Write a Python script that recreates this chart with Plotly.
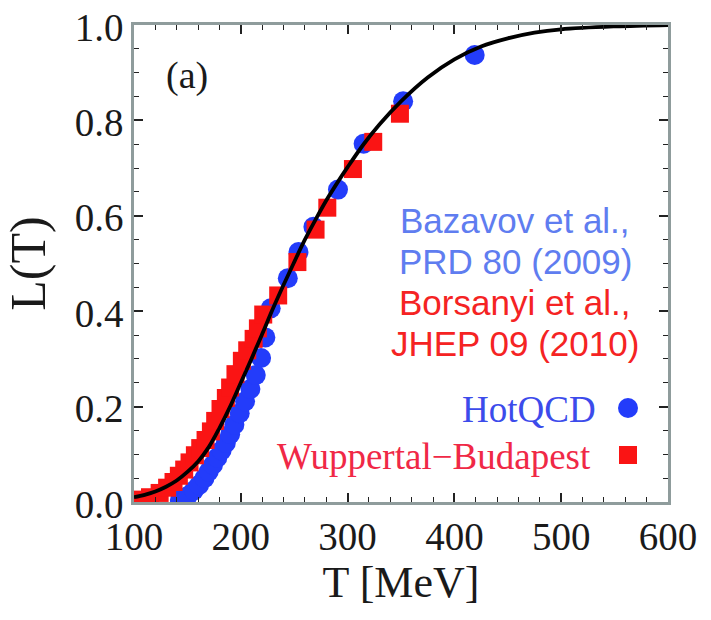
import plotly.graph_objects as go

# ---- data ----
# model curve L(T)
curve_T = [100, 110, 120, 130, 140, 150, 160, 170, 180, 190, 200, 210, 220, 230, 240,
           250, 260, 270, 280, 290, 300, 315, 330, 350, 375, 400, 425, 450, 475, 500, 550, 600]
curve_L = [0.010, 0.015, 0.022, 0.032, 0.045, 0.063, 0.085, 0.115, 0.155, 0.200, 0.250,
           0.300, 0.352, 0.405, 0.455, 0.503, 0.550, 0.592, 0.632, 0.668, 0.702, 0.750,
           0.792, 0.840, 0.890, 0.928, 0.955, 0.972, 0.984, 0.991, 0.997, 1.000]

# HotQCD (Bazavov et al., PRD 80 (2009))
hot_T = [143, 150, 156, 161, 166, 170, 174, 178, 182, 186, 190, 194, 199, 204, 209, 214,
         219, 223, 228, 244, 254, 268, 291, 315, 352, 419]
hot_L = [0.004, 0.012, 0.024, 0.036, 0.050, 0.064, 0.078, 0.093, 0.108, 0.124, 0.142,
         0.162, 0.186, 0.211, 0.237, 0.266, 0.302, 0.345, 0.406, 0.469, 0.524, 0.577,
         0.655, 0.751, 0.840, 0.937]

# Wuppertal-Budapest (Borsanyi et al., JHEP 09 (2010))
wb_T = [105, 115, 124, 131, 137, 142, 147, 152, 157, 162, 167, 172, 176, 181, 186, 190,
        195, 201, 206, 212, 216, 221, 235, 253, 270, 281, 305, 324, 349]
wb_L = [0.005, 0.010, 0.019, 0.030, 0.042, 0.055, 0.068, 0.083, 0.098, 0.113, 0.130,
        0.148, 0.170, 0.195, 0.218, 0.240, 0.268, 0.296, 0.318, 0.342, 0.364, 0.393,
        0.433, 0.503, 0.571, 0.617, 0.698, 0.755, 0.814]

x_ticks = [100, 200, 300, 400, 500, 600]
y_ticks = [0.0, 0.2, 0.4, 0.6, 0.8, 1.0]

BLUE = "rgb(35,60,250)"
RED = "rgb(250,20,20)"
SERIF = "Liberation Serif"
SANS = "Liberation Sans"

fig = go.Figure()
fig.add_trace(go.Scatter(x=hot_T, y=hot_L, mode="markers", name="HotQCD",
                         marker=dict(symbol="circle", size=20, color=BLUE, line=dict(width=0)),
                         showlegend=False))
fig.add_trace(go.Scatter(x=wb_T, y=wb_L, mode="markers", name="Wuppertal-Budapest",
                         marker=dict(symbol="square", size=18, color=RED, line=dict(width=0)),
                         showlegend=False))
fig.add_trace(go.Scatter(x=curve_T, y=curve_L, mode="lines", name="L(T)",
                         line=dict(color="black", width=3.8, shape="spline", smoothing=1.0),
                         showlegend=False))

axis_common = dict(
    showgrid=False, zeroline=False, showline=True, linecolor="#8f9c9c", linewidth=2.5,
    mirror="allticks", ticks="inside", ticklen=9, tickwidth=1.5, tickcolor="#222",
    tickfont=dict(family=SERIF, size=39, color="#1a1a1a"), automargin=False,
)

fig.update_xaxes(range=[100, 600], tickvals=x_ticks, **axis_common, ticklabelstandoff=-2,
                 minor=dict(dtick=20, tick0=100, ticks="inside", ticklen=5, tickcolor="#222", tickwidth=1.2),
                 title=dict(text="T [MeV]", font=dict(family=SERIF, size=44, color="#1a1a1a"), standoff=9))
fig.update_yaxes(range=[0, 1], tickvals=y_ticks, tickformat=".1f", **axis_common, ticklabelshift=2,
                 minor=dict(dtick=0.05, tick0=0, ticks="inside", ticklen=5, tickcolor="#222", tickwidth=1.2),
                 title=dict(text="L(T)", font=dict(family=SERIF, size=50, color="#1a1a1a"), standoff=18))

# text annotations (legend-like block)
def px2paper(px, py):
    return (px - 134) / (668 - 134), (502 - py) / (502 - 25)

anns = []
for txt, col, py in [("Bazavov et al.,", "rgb(95,125,240)", 221),
                     ("PRD 80 (2009)", "rgb(95,125,240)", 261),
                     ("Borsanyi et al.,", "rgb(245,35,35)", 302),
                     ("JHEP 09 (2010)", "rgb(245,35,35)", 343)]:
    x, y = px2paper(515, py)
    anns.append(dict(x=x, y=y, xref="paper", yref="paper", text=txt, showarrow=False,
                     xanchor="center", yanchor="middle",
                     font=dict(family=SANS, size=35, color=col)))
x, y = px2paper(598, 409)
anns.append(dict(x=x, y=y, xref="paper", yref="paper", text="HotQCD", showarrow=False,
                 xanchor="right", yanchor="middle",
                 font=dict(family=SERIF, size=37, color="rgb(60,75,235)")))
x, y = px2paper(593, 456)
anns.append(dict(x=x, y=y, xref="paper", yref="paper", text="Wuppertal\u2212Budapest", showarrow=False,
                 xanchor="right", yanchor="middle",
                 font=dict(family=SERIF, size=37, color="rgb(240,40,70)")))
x, y = px2paper(187, 76)
anns.append(dict(x=x, y=y, xref="paper", yref="paper", text="(a)", showarrow=False,
                 xanchor="center", yanchor="middle",
                 font=dict(family=SERIF, size=38, color="#1a1a1a")))

# legend keys
cx, cy = px2paper(628, 408)
sx, sy = px2paper(628, 455)
shapes = [
    dict(type="circle", xref="paper", yref="paper", xsizemode="pixel", ysizemode="pixel",
         xanchor=cx, yanchor=cy, x0=-10, x1=10, y0=-10, y1=10,
         fillcolor=BLUE, line=dict(width=0)),
    dict(type="rect", xref="paper", yref="paper", xsizemode="pixel", ysizemode="pixel",
         xanchor=sx, yanchor=sy, x0=-9, x1=9, y0=-9, y1=9,
         fillcolor=RED, line=dict(width=0)),
]

fig.update_layout(
    width=711, height=620, autosize=False,
    margin=dict(l=134, r=43, t=25, b=118, pad=0),
    plot_bgcolor="white", paper_bgcolor="white",
    annotations=anns, shapes=shapes, showlegend=False,
)

fig.write_html("out.html")
